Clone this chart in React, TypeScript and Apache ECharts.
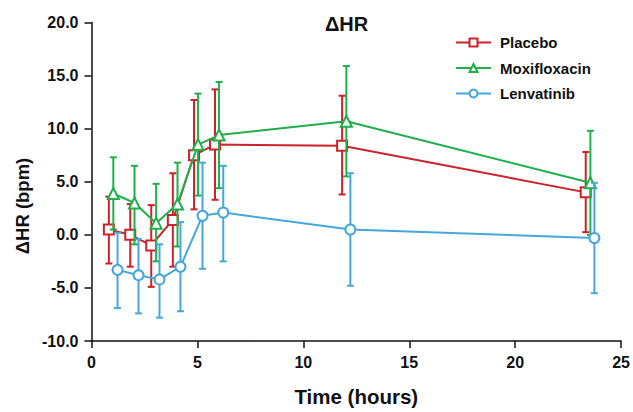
import React, { useEffect, useRef } from "react";
import * as echarts from "echarts";

const seriesNames = ["Placebo", "Moxifloxacin", "Lenvatinib"];

const placeboTime = [0.82, 1.83, 2.82, 3.84, 4.84, 5.83, 11.83, 23.33];
const placeboMean = [0.5, 0.0, -1.0, 1.4, 7.5, 8.5, 8.4, 4.0];
const placeboUpper = [3.6, 2.9, 2.8, 5.8, 12.7, 13.7, 13.1, 7.8];
const placeboLower = [-2.7, -3.0, -4.9, -3.0, 2.4, 3.3, 3.8, 0.25];

const moxiTime = [1.03, 2.03, 3.05, 4.06, 5.03, 6.02, 12.03, 23.55];
const moxiMean = [3.9, 3.0, 1.1, 2.9, 8.5, 9.4, 10.7, 4.9];
const moxiUpper = [7.3, 6.5, 4.8, 6.8, 13.3, 14.4, 15.9, 9.8];
const moxiLower = [0.5, -0.9, -2.5, -1.1, 3.7, 4.4, 5.5, 0.0];

const lenvTime = [1.23, 2.22, 3.21, 4.2, 5.24, 6.22, 12.22, 23.74];
const lenvMean = [-3.3, -3.8, -4.2, -3.0, 1.8, 2.1, 0.5, -0.3];
const lenvUpper = [0.2, -0.4, -0.9, 1.2, 6.8, 6.5, 5.8, 4.9];
const lenvLower = [-6.9, -7.4, -7.8, -7.2, -3.2, -2.5, -4.8, -5.5];

const FONT = "'Liberation Sans', Arial, sans-serif";

const groups = [
  { name: seriesNames[0], t: placeboTime, m: placeboMean, u: placeboUpper, l: placeboLower, color: "#CC2229", symbol: "rect" },
  { name: seriesNames[1], t: moxiTime, m: moxiMean, u: moxiUpper, l: moxiLower, color: "#1FAF4B", symbol: "triangle" },
  { name: seriesNames[2], t: lenvTime, m: lenvMean, u: lenvUpper, l: lenvLower, color: "#47A7DA", symbol: "circle" },
];

export default function App() {
  const ref = useRef<HTMLDivElement>(null);
  useEffect(() => {
    if (!ref.current) return;
    const chart = echarts.init(ref.current, null, { renderer: "svg" });
    const series: any[] = [];
    groups.forEach((g, gi) => {
      series.push({
        name: g.name + " SD",
        type: "custom",
        z: 2 + gi * 2,
        data: g.t.map((t, i) => [t, g.l[i], g.u[i]]),
        encode: { x: 0, y: [1, 2] },
        renderItem: (params: any, api: any) => {
          const x = api.value(0);
          const lo = api.coord([x, api.value(1)]);
          const hi = api.coord([x, api.value(2)]);
          const w = 3.5;
          const st = { stroke: g.color, lineWidth: 2 };
          return {
            type: "group",
            children: [
              { type: "line", shape: { x1: lo[0], y1: lo[1], x2: hi[0], y2: hi[1] }, style: st },
              { type: "line", shape: { x1: hi[0] - w, y1: hi[1], x2: hi[0] + w, y2: hi[1] }, style: st },
              { type: "line", shape: { x1: lo[0] - w, y1: lo[1], x2: lo[0] + w, y2: lo[1] }, style: st },
            ],
          };
        },
      });
      series.push({
        name: g.name,
        type: "line",
        z: 3 + gi * 2,
        data: g.t.map((t, i) => [t, g.m[i]]),
        symbol: g.symbol,
        symbolSize: g.symbol === "triangle" ? 11 : 10,
        lineStyle: { color: g.color, width: 2 },
        itemStyle: { color: "#ffffff", borderColor: g.color, borderWidth: 2 },
      });
    });

    chart.setOption({
      animation: false,
      grid: { left: 91.5, right: 10.3, top: 22.5, bottom: 64.8 },
      legend: {
        data: seriesNames,
        orient: "vertical",
        left: 455,
        top: 35,
        padding: 0,
        itemWidth: 35,
        itemHeight: 10,
        itemGap: 10.5,
        textStyle: { fontFamily: FONT, fontWeight: "bold", fontSize: 15, color: "#111", padding: [0, 0, 0, 4] },
      },
      xAxis: {
        type: "value",
        min: 0,
        max: 25,
        interval: 5,
        name: "Time (hours)",
        nameLocation: "middle",
        nameGap: 45,
        nameTextStyle: { fontFamily: FONT, fontWeight: "bold", fontSize: 20.5, color: "#111" },
        axisLine: { onZero: false, lineStyle: { color: "#111", width: 1.5 } },
        axisTick: { inside: false, length: 7, lineStyle: { color: "#111", width: 1.5 } },
        axisLabel: { margin: 13, fontFamily: FONT, fontWeight: "bold", fontSize: 16, color: "#111" },
        splitLine: { show: false },
      },
      yAxis: {
        type: "value",
        min: -10,
        max: 20,
        interval: 5,
        axisLine: { show: true, onZero: false, lineStyle: { color: "#111", width: 1.5 } },
        axisTick: { show: true, inside: false, length: 7, lineStyle: { color: "#111", width: 1.5 } },
        axisLabel: {
          margin: 13,
          fontFamily: FONT,
          fontWeight: "bold",
          fontSize: 16,
          color: "#111",
          formatter: (v: number) => v.toFixed(1),
        },
        splitLine: { show: false },
      },
      graphic: [
        {
          type: "text",
          x: 346.5,
          y: 23.5,
          style: {
            text: "ΔHR",
            fontFamily: FONT,
            fontWeight: "bold",
            fontSize: 20,
            fill: "#111",
            align: "center",
            verticalAlign: "middle",
          },
        },
        {
          type: "text",
          x: 22,
          y: 206,
          rotation: Math.PI / 2,
          style: {
            text: "ΔHR (bpm)",
            fontFamily: FONT,
            fontWeight: "bold",
            fontSize: 18.5,
            fill: "#111",
            align: "center",
            verticalAlign: "middle",
          },
        },
      ],
      series,
    });
    return () => chart.dispose();
  }, []);
  return (
    <div
      ref={ref}
      style={{ position: "fixed", left: 0, top: 0, width: 633, height: 412, background: "#fff" }}
    />
  );
}
